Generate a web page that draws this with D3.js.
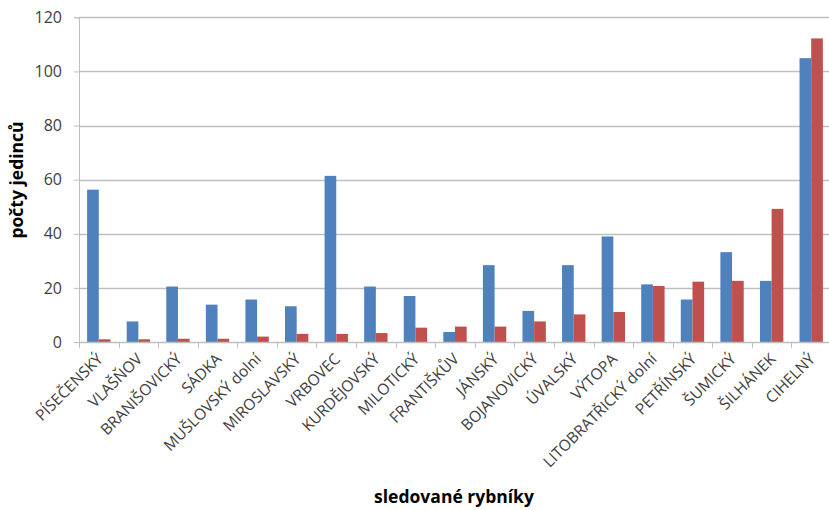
<!DOCTYPE html>
<html>
<head>
<meta charset="utf-8">
<script src="https://cdn.jsdelivr.net/npm/d3@7"></script>
<style>
  html, body { margin: 0; padding: 0; background: #fff; }
  svg { display: block; }
  text { font-family: "Open Sans", Lato, sans-serif; }
</style>
</head>
<body>
<svg id="chart" width="829" height="510"></svg>
<script>
const categories = ["PÍSEČENSKÝ","VLAŠŇOV","BRANIŠOVICKÝ","SÁDKA","MUŠLOVSKÝ dolní","MIROSLAVSKÝ","VRBOVEC","KURDĚJOVSKÝ","MILOTICKÝ","FRANTIŠKŮV","JÁNSKÝ","BOJANOVICKÝ","ÚVALSKÝ","VÝTOPA","LITOBRATŘICKÝ dolní","PETŘÍNSKÝ","ŠUMICKÝ","ŠILHÁNEK","CIHELNÝ"];
const seriesA = [56.3, 7.6, 20.5, 13.8, 15.7, 13.2, 61.4, 20.5, 17, 3.7, 28.4, 11.5, 28.4, 39, 21.3, 15.7, 33.2, 22.6, 104.9];
const seriesB = [1, 1, 1.2, 1.2, 2, 3, 3, 3.3, 5.3, 5.7, 5.7, 7.6, 10.2, 11.1, 20.7, 22.3, 22.6, 49.2, 112.2];
const yTicks = [0, 20, 40, 60, 80, 100, 120];
const seriesNames = ["A", "B"];
const colors = ["#4F81BD", "#C0504D"];
const xTitle = "sledované rybníky";
const yTitle = "počty jedinců";

(function () {
const svg = d3.select("#chart");
const pLeft = 79, pRight = 831, pTop = 17.3, pBottom = 342;

const x = d3.scaleBand().domain(categories).range([pLeft, pRight]).padding(0);
const bw = x.bandwidth();
const groupW = bw * 0.59;
const xs = d3.scaleBand().domain(seriesNames).range([(bw - groupW) / 2, (bw + groupW) / 2]).padding(0);
const y = d3.scaleLinear().domain([0, 120]).range([pBottom, pTop]);

// y axis + ticks
const yAxis = d3.axisLeft(y).tickValues(yTicks).tickSize(5).tickPadding(12);
const gy = svg.append("g").attr("transform", `translate(${pLeft},0)`).call(yAxis);
gy.select(".domain").attr("stroke", "#BFBFBF").attr("stroke-width", 1);
gy.selectAll(".tick line").attr("stroke", "#BFBFBF");
gy.selectAll(".tick text").attr("font-size", 16).attr("fill", "#404040").attr("font-family", "'Open Sans', sans-serif");
// gridlines
svg.append("g").selectAll("line").data(yTicks.filter(d => d > 0)).join("line")
  .attr("x1", pLeft).attr("x2", pRight)
  .attr("y1", d => Math.round(y(d)) + 0.5).attr("y2", d => Math.round(y(d)) + 0.5)
  .attr("stroke", "#BFBFBF").attr("stroke-width", 1.3);

// bars
const data = categories.map((c, i) => ({c, vals: [seriesA[i], seriesB[i]]}));
const groups = svg.append("g").selectAll("g").data(data).join("g")
  .attr("transform", d => `translate(${x(d.c)},0)`);
groups.selectAll("rect").data(d => d.vals.map((v, k) => ({k, v}))).join("rect")
  .attr("x", d => xs(seriesNames[d.k]))
  .attr("width", xs.bandwidth())
  .attr("y", d => y(d.v))
  .attr("height", d => y(0) - y(d.v))
  .attr("fill", d => colors[d.k]);

// x axis line + ticks at category boundaries
svg.append("line").attr("x1", pLeft).attr("x2", pRight)
  .attr("y1", pBottom + 0.5).attr("y2", pBottom + 0.5)
  .attr("stroke", "#BFBFBF").attr("stroke-width", 1.3);
const bounds = categories.map(c => x(c)).concat([pRight]);
svg.append("g").selectAll("line").data(bounds).join("line")
  .attr("x1", d => Math.round(d) + 0.5).attr("x2", d => Math.round(d) + 0.5)
  .attr("y1", pBottom).attr("y2", pBottom + 6)
  .attr("stroke", "#BFBFBF");

// x labels
svg.append("g").selectAll("text").data(categories).join("text")
  .attr("transform", c => `translate(${x(c) + bw / 2 + 5},${pBottom + 18}) rotate(-45)`)
  .attr("text-anchor", "end")
  .attr("font-size", 15.5)
  .attr("fill", "#404040")
  .text(c => c);

// axis titles
svg.append("text").attr("x", 454).attr("y", 503).attr("text-anchor", "middle")
  .attr("font-size", 17.5).attr("font-weight", "bold").attr("fill", "#000").text(xTitle);
svg.append("text").attr("transform", "translate(23,180) rotate(-90)").attr("text-anchor", "middle")
  .attr("font-size", 17.5).attr("font-weight", "bold").attr("fill", "#000").text(yTitle);
})();
</script>
</body>
</html>
